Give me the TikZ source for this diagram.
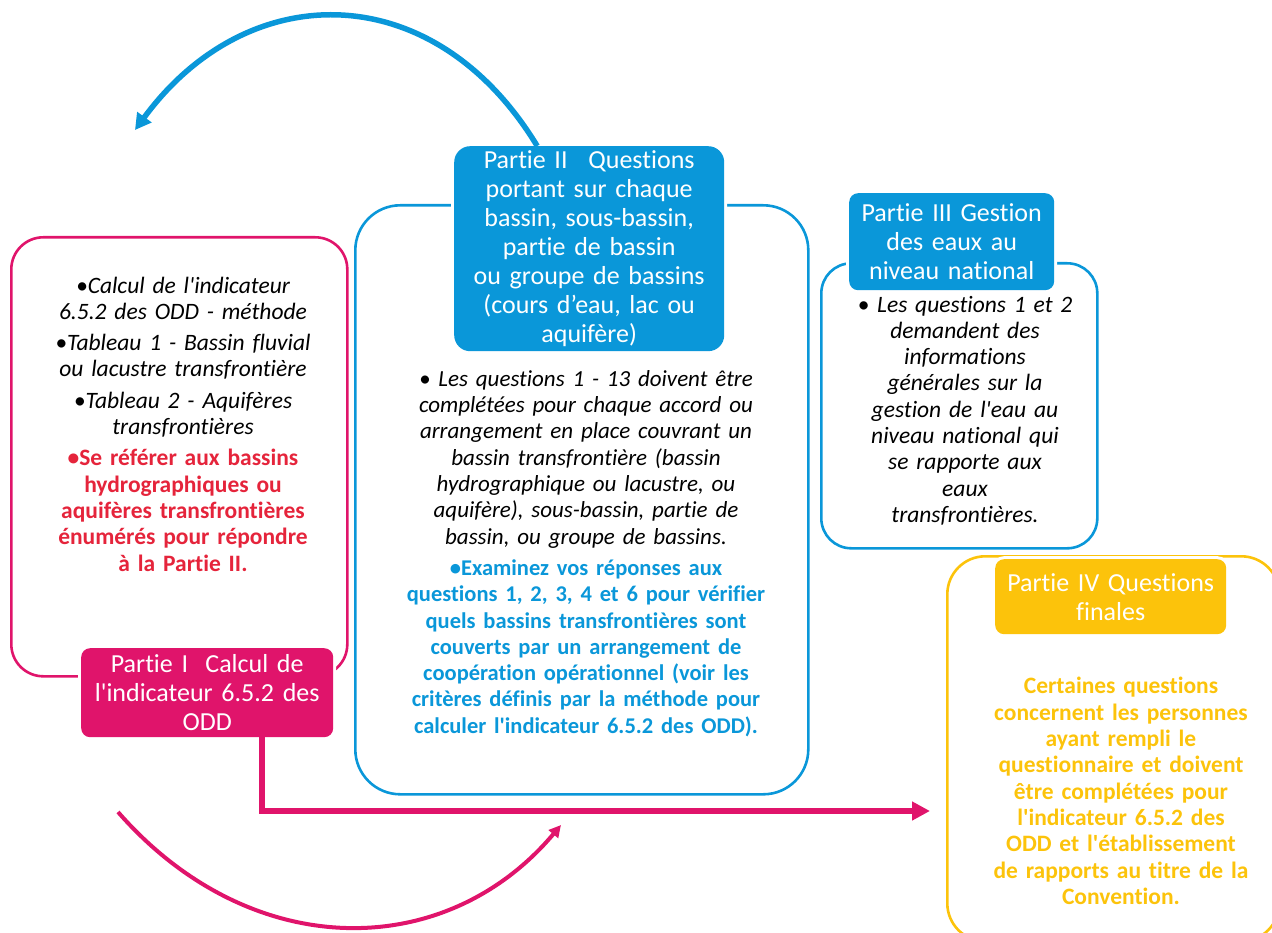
\documentclass[tikz,border=0pt]{standalone}
\usepackage{fontspec}
\setmainfont{Carlito}[Ligatures={NoCommon}]
\usetikzlibrary{arrows.meta}
\definecolor{pinkc}{HTML}{E0146B}
\definecolor{redc}{HTML}{E5243B}
\definecolor{bluec}{HTML}{0A97D9}
\definecolor{yellowc}{HTML}{FCC30B}
\newcommand{\ap}{\textquotesingle}
\tikzset{
  outerbox/.style={draw, line width=2.6pt, rounded corners=#1, inner sep=0pt, anchor=north west},
  headbox/.style={fill=#1, preaction={draw=white, line width=6pt}, rounded corners=9pt,
     inner sep=0pt, anchor=north west, text=white, align=center,
     font=\fontsize{26}{29}\selectfont},
  bodytext/.style={align=center, inner sep=0pt, font=\fontsize{23.5}{26.3}\selectfont},
  flowarrow/.style={line width=#1}
}
\begin{document}
\begin{tikzpicture}[x=1pt,y=-1pt]
\useasboundingbox (0,0) rectangle (1272,933);
% outer boxes
\node[outerbox=32pt, draw=pinkc, minimum width=336pt, minimum height=439pt] (o1) at (10,236) {};
\node[outerbox=45pt, draw=bluec, minimum width=453pt, minimum height=589pt] (o2) at (354,204) {};
\node[outerbox=30pt, draw=bluec, minimum width=276pt, minimum height=285pt] (o3) at (820,262) {};
\node[outerbox=38pt, draw=yellowc, minimum width=332pt, minimum height=385pt] (o4) at (946,555) {};
% headers
\node[headbox=pinkc, text width=252pt, minimum height=89pt] (h1) at (81,648)
  {Partie I\ \ Calcul de\\ l\ap indicateur 6.5.2 des\\ ODD};
\node[headbox=bluec, rounded corners=16pt, text width=270pt, minimum height=205pt] (h2) at (454,146)
  {Partie II\hspace{0.8em}Questions\\ portant sur chaque\\ bassin, sous-bassin,\\ partie de bassin\\ ou groupe de bassins\\ (cours d’eau, lac ou\\ aquifère)};
\node[headbox=bluec, text width=205pt, minimum height=97pt] (h3) at (849,193)
  {Partie III Gestion\\ des eaux au\\ niveau national};
\node[headbox=yellowc, text width=231pt, minimum height=75pt] (h4) at (995,559)
  {Partie IV Questions\\ finales};
% body texts
\node[bodytext, text width=300pt] (b1) at (183,424)
  {\itshape •Calcul de l\ap indicateur\\ 6.5.2 des ODD - méthode\\[5pt]
   •Tableau 1 - Bassin fluvial\\ ou lacustre transfrontière\\[5pt]
   •Tableau 2 - Aquifères\\ transfrontières\\[5pt]
   \upshape\bfseries\color{redc}•Se référer aux bassins\\ hydrographiques ou\\ aquifères transfrontières\\ énumérés pour répondre\\ à la Partie II.};
\node[bodytext, text width=420pt] (b2) at (586,553.5)
  {\fontsize{23}{26.3}\selectfont\itshape • Les questions 1 - 13 doivent être\\ complétées pour chaque accord ou\\ arrangement en place couvrant un\\ bassin transfrontière (bassin\\ hydrographique ou lacustre, ou\\ aquifère), sous-bassin, partie de\\ bassin, ou groupe de bassins.\\[5pt]
   \fontsize{22.5}{26.3}\selectfont\upshape\bfseries\color{bluec}•Examinez vos réponses aux\\ questions 1, 2, 3, 4 et 6 pour vérifier\\ quels bassins transfrontières sont\\ couverts par un arrangement de\\ coopération opérationnel (voir les\\ critères définis par la méthode pour\\ calculer l\ap indicateur 6.5.2 des ODD).};
\node[bodytext, text width=240pt] (b3) at (965,410.5)
  {\itshape • Les questions 1 et 2\\ demandent des\\ informations\\ générales sur la\\ gestion de l\ap eau au\\ niveau national qui\\ se rapporte aux\\ eaux\\ transfrontières.};
\node[bodytext, text width=300pt, text=yellowc] (b4) at (1121,791)
  {\bfseries Certaines questions\\ concernent les personnes\\ ayant rempli le\\ questionnaire et doivent\\ être complétées pour\\ l\ap indicateur 6.5.2 des\\ ODD et l\ap établissement\\ de rapports au titre de la\\ Convention.};
% connectors
\coordinate (pend) at (930,811);
\coordinate (cstart) at (118,812);
\coordinate (cend) at (561,825);
\coordinate (bend) at (135,130);
\draw[pinkc, flowarrow=6pt, -{Triangle[length=18pt,width=18pt]}]
  ([xshift=55pt]h1.south) |- (pend);
\draw[pinkc, flowarrow=4pt, -{Triangle[length=12pt,width=12pt]}]
  (cstart) .. controls (250,963) and (445,963) .. (cend);
\draw[bluec, flowarrow=5.5pt, -{Triangle[length=16pt,width=17pt]}]
  ([xshift=-52pt]h2.north) .. controls (434,-24) and (248,-24) .. (bend);
\end{tikzpicture}
\end{document}
